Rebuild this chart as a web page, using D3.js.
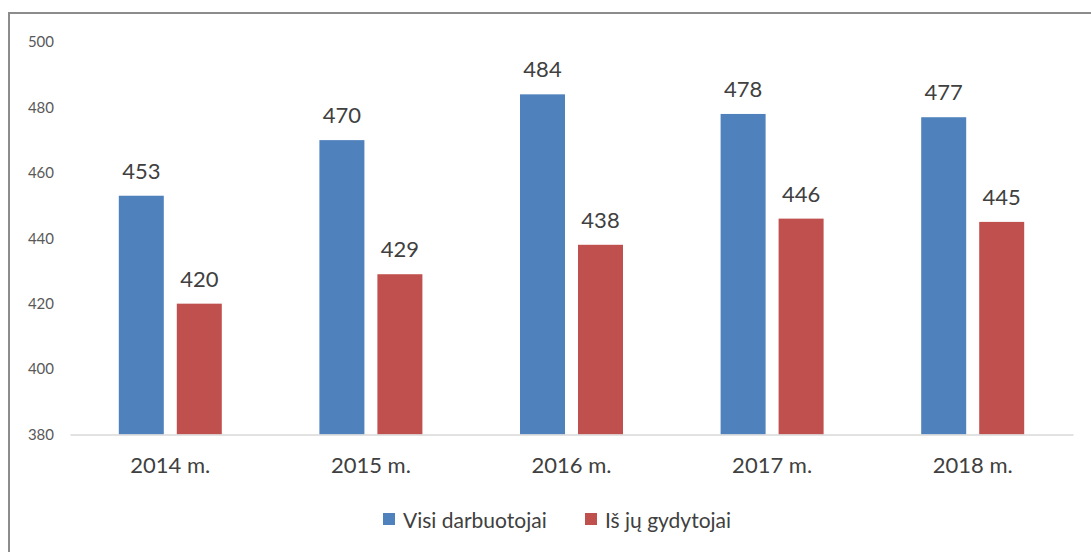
<!DOCTYPE html>
<html><head><meta charset="utf-8">
<script src="https://cdn.jsdelivr.net/npm/d3@7"></script>
<style>body{margin:0;background:#fff}svg{display:block}text{font-family:Lato,"Open Sans",sans-serif}</style>
</head><body>
<svg id="c" width="1091" height="552"></svg>
<script>
const categories = ["2014 m.","2015 m.","2016 m.","2017 m.","2018 m."];
const seriesNames = ["Visi darbuotojai","Iš jų gydytojai"];
const visi = [453,470,484,478,477];
const gydytojai = [420,429,438,446,445];
const yTicks = [380,400,420,440,460,480,500];
const colors = ["#4F81BD","#C0504D"];

const svg = d3.select("#c");
svg.append("rect").attr("x",9).attr("y",13).attr("width",1100).attr("height",560)
  .attr("fill","#fff").attr("stroke","#8c8c8c").attr("stroke-width",2);

const x0 = d3.scaleBand().domain(categories).range([70,1073]).paddingInner(0).paddingOuter(0);
const y = d3.scaleLinear().domain([380,500]).range([434.5,42]);
const barW = 45, gap = 13;

const yAxis = d3.axisLeft(y).tickValues(yTicks).tickSize(0).tickPadding(0);
const gy = svg.append("g").attr("transform","translate(54,0)").call(yAxis);
gy.select(".domain").remove();
gy.selectAll("text").attr("fill","#595959").style("font-size","15px").attr("font-family","Lato");

const data = categories.map((c,i)=>({c, vals:[visi[i],gydytojai[i]]}));
const g = svg.append("g");
data.forEach(d=>{
  const cx = x0(d.c)+x0.bandwidth()/2;
  d.vals.forEach((v,j)=>{
    const bx = j===0 ? cx-gap/2-barW : cx+gap/2;
    g.append("rect").attr("x",bx).attr("y",y(v)).attr("width",barW).attr("height",y(380)-y(v))
      .attr("fill",colors[j]);
    g.append("text").attr("x",bx+barW/2).attr("y",y(v)-17).attr("text-anchor","middle")
      .attr("fill","#404040").style("font-size","22px").text(v);
  });
});

const xAxis = d3.axisBottom(x0).tickSize(0).tickPadding(0);
const gx = svg.append("g").attr("transform","translate(0,434.5)").call(xAxis);
gx.select(".domain").attr("stroke","#d9d9d9").attr("stroke-width",1.5);
gx.selectAll("text").attr("fill","#404040").style("font-size","22px").attr("font-family","Lato")
  .attr("dy","0").attr("y",38);

const leg = svg.append("g");
const legX = [383,585];
seriesNames.forEach((n,i)=>{
  leg.append("rect").attr("x",legX[i]).attr("y",513).attr("width",12).attr("height",12).attr("fill",colors[i]);
  leg.append("text").attr("x",legX[i]+20).attr("y",528).attr("fill","#404040").style("font-size","21px").text(n);
});
</script>
</body></html>
